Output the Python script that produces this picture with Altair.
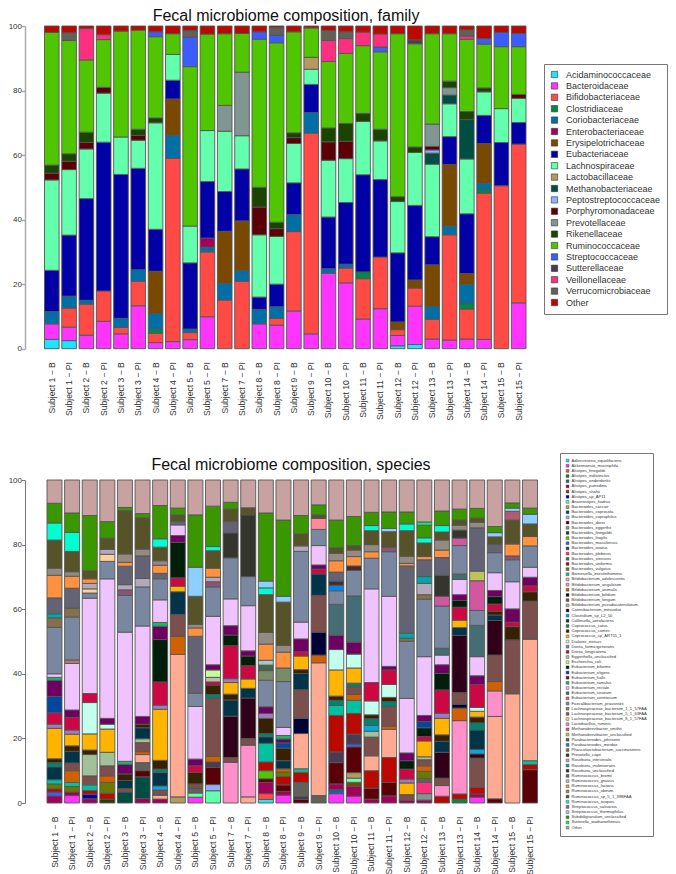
import altair as alt
import pandas as pd

FONT = "Liberation Sans"
TEXT = "#333333"

samples = []
for n in [1, 2, 3, 4, 5, 7, 8, 9, 10, 11, 12, 13, 14, 15]:
    samples += [f"Subject {n} \u2212 B", f"Subject {n} \u2212 PI"]

families = ["Acidaminococcaceae", "Bacteroidaceae", "Bifidobacteriaceae", "Clostridiaceae", "Coriobacteriaceae",
            "Enterobacteriaceae", "Erysipelotrichaceae", "Eubacteriaceae", "Lachnospiraceae", "Lactobacillaceae",
            "Methanobacteriaceae", "Peptostreptococcaceae", "Porphyromonadaceae", "Prevotellaceae", "Rikenellaceae",
            "Ruminococcaceae", "Streptococcaceae", "Sutterellaceae", "Veillonellaceae", "Verrucomicrobiaceae", "Other"]
family_colors = ["#1CE6FF", "#FF34FF", "#FF4A46", "#008941", "#006FA6", "#A30059", "#7A4900", "#0000A6", "#63FFAC",
                 "#B79762", "#004D43", "#8FB0FF", "#5A0007", "#809693", "#1B4400", "#4FC601", "#3B5DFF", "#4A3B53",
                 "#FF2F80", "#61615A", "#BA0900"]
family_short = ["Aci", "Bac", "Bif", "Clo", "Cor", "Ent", "Ery", "Eub", "Lac", "Lab", "Met", "Pep", "Por", "Pre",
                "Rik", "Rum", "Str", "Sut", "Vei", "Ver", "Oth"]

species = ["Adlercreutzia_equolifaciens", "Akkermansia_muciniphila", "Alistipes_finegoldii", "Alistipes_indistinctus",
           "Alistipes_onderdonkii", "Alistipes_putredinis", "Alistipes_shahii", "Alistipes_sp_AP11",
           "Anaerostipes_hadrus", "Bacteroides_caccae", "Bacteroides_coprocola", "Bacteroides_coprophilus",
           "Bacteroides_dorei", "Bacteroides_eggerthii", "Bacteroides_finegoldii", "Bacteroides_fragilis",
           "Bacteroides_massiliensis", "Bacteroides_ovatus", "Bacteroides_plebeius", "Bacteroides_stercoris",
           "Bacteroides_uniformis", "Bacteroides_vulgatus", "Barnesiella_intestinihominis",
           "Bifidobacterium_adolescentis", "Bifidobacterium_angulatum", "Bifidobacterium_animalis",
           "Bifidobacterium_bifidum", "Bifidobacterium_longum", "Bifidobacterium_pseudocatenulatum",
           "Catenibacterium_mitsuokai", "Clostridium_sp_L2_50", "Collinsella_aerofaciens", "Coprococcus_catus",
           "Coprococcus_comes", "Coprococcus_sp_ART55_1", "Dialister_invisus", "Dorea_formicigenerans",
           "Dorea_longicatena", "Eggerthella_unclassified", "Escherichia_coli", "Eubacterium_biforme",
           "Eubacterium_eligens", "Eubacterium_hallii", "Eubacterium_ramulus", "Eubacterium_rectale",
           "Eubacterium_siraeum", "Eubacterium_ventriosum", "Faecalibacterium_prausnitzii",
           "Lachnospiraceae_bacterium_1_1_57FAA", "Lachnospiraceae_bacterium_5_1_63FAA",
           "Lachnospiraceae_bacterium_8_1_57FAA", "Lactobacillus_ruminis", "Methanobrevibacter_smithii",
           "Methanobrevibacter_unclassified", "Parabacteroides_johnsonii", "Parabacteroides_merdae",
           "Phascolarctobacterium_succinatutens", "Prevotella_copri", "Roseburia_intestinalis",
           "Roseburia_inulinivorans", "Roseburia_unclassified", "Ruminococcus_bromii", "Ruminococcus_gnavus",
           "Ruminococcus_lactaris", "Ruminococcus_obeum", "Ruminococcus_sp_5_1_39BFAA", "Ruminococcus_torques",
           "Streptococcus_salivarius", "Streptococcus_thermophilus", "Subdoligranulum_unclassified",
           "Sutterella_wadsworthensis", "Other"]
species_short = ["adl", "akk", "afi", "ain", "aon", "apu", "ash", "aap", "ana", "bca", "bcl", "bcp", "bdo", "beg",
                 "bfi", "bfr", "bma", "bov", "bpl", "bst", "bun", "bvu", "bar", "bad", "ban", "bam", "bbi", "blo",
                 "bps", "cat", "clo", "col", "cca", "cco", "car", "dia", "dfo", "dlo", "egg", "esc", "ebi", "eel",
                 "eha", "era", "ere", "esi", "eve", "fae", "l11", "l51", "l81", "lru", "msm", "mun", "pjo", "pme",
                 "pha", "pco", "rin", "riu", "run", "rbr", "rgn", "rla", "rob", "rsp", "rto", "ssa", "sth", "sub",
                 "sut", "oth"]
species_colors = ["#1CE6FF", "#FF34FF", "#FF4A46", "#008941", "#006FA6", "#A30059", "#7A4900", "#0000A6", "#63FFAC",
                  "#B79762", "#004D43", "#8FB0FF", "#5A0007", "#809693", "#1B4400", "#4FC601", "#3B5DFF", "#4A3B53",
                  "#FF2F80", "#61615A", "#BA0900", "#6B7900", "#00C2A0", "#FFAA92", "#FF90C9", "#D16100", "#000035",
                  "#7B4F4B", "#A1C299", "#300018", "#0AA6D8", "#013349", "#00846F", "#372101", "#FFB500", "#C2FFED",
                  "#A079BF", "#CC0744", "#C0B9B2", "#C2FF99", "#001E09", "#00489C", "#6F0062", "#0CBD66", "#EEC3FF",
                  "#456D75", "#B77B68", "#7A87A1", "#788D66", "#885578", "#FAD09F", "#FF8A9A", "#D157A0", "#BEC459",
                  "#456648", "#0086ED", "#886F4C", "#34362D", "#B4A8BD", "#00A6AA", "#452C2C", "#636375", "#A3C8C9",
                  "#FF913F", "#938A81", "#575329", "#00FECF", "#B05B6F", "#8CD0FF", "#3B9700", "#04F757", "#C8A1A1"]

# Family composition: (family, cumulative top of the segment), bottom to top, one list per sample
f01 = [("Aci", 2.9), ("Bac", 7.7), ("Cor", 11.5), ("Eub", 24.3), ("Lac", 52.3), ("Por", 54.4), ("Rik", 56.9), ("Rum", 98), ("Oth", 100)]
f02 = [("Aci", 2.5), ("Bac", 6.7), ("Bif", 12.6), ("Cor", 16.3), ("Eub", 35.2), ("Lac", 55.5), ("Por", 58.1), ("Rik", 60.4), ("Rum", 95.5), ("Ver", 97.9), ("Oth", 100)]
f03 = [("Bac", 4.2), ("Bif", 13.8), ("Cor", 15), ("Eub", 46.5), ("Lac", 61.9), ("Por", 63.9), ("Rik", 67.1), ("Rum", 89.5), ("Vei", 99.2), ("Oth", 100)]
f04 = [("Bac", 8.5), ("Bif", 17.9), ("Eub", 64), ("Lac", 79.2), ("Por", 81), ("Rum", 95.8), ("Vei", 97.3), ("Oth", 100)]
f05 = [("Bac", 4.6), ("Bif", 6.6), ("Cor", 9.4), ("Eub", 54), ("Lac", 65.6), ("Rum", 98.4), ("Oth", 100)]
f06 = [("Bac", 13.3), ("Bif", 20.9), ("Cor", 24.5), ("Eub", 55.9), ("Lac", 64.6), ("Por", 66.1), ("Rik", 68), ("Rum", 98.7), ("Oth", 100)]
f07 = [("Bac", 1.9), ("Bif", 4.8), ("Clo", 6), ("Cor", 10.9), ("Ery", 24), ("Eub", 37), ("Lac", 70), ("Rik", 71.5), ("Rum", 96.7), ("Str", 98.2), ("Oth", 100)]
f08 = [("Bac", 2.2), ("Bif", 59), ("Cor", 66.2), ("Ery", 77.4), ("Eub", 83.2), ("Lac", 91.2), ("Rum", 97.6), ("Oth", 100)]
f09 = [("Bac", 2.8), ("Bif", 5), ("Cor", 6.1), ("Eub", 26.6), ("Lac", 38), ("Rum", 87.4), ("Str", 96.6), ("Ver", 98.6), ("Oth", 100)]
f10 = [("Bac", 9.9), ("Bif", 30), ("Cor", 31.5), ("Ent", 34.3), ("Eub", 51.8), ("Lac", 67.6), ("Rum", 97.5), ("Oth", 100)]
f11 = [("Bif", 15.1), ("Cor", 20.3), ("Ery", 36.4), ("Eub", 48.7), ("Lac", 67.4), ("Pre", 75.4), ("Rum", 97.6), ("Oth", 100)]
f12 = [("Bif", 20.9), ("Cor", 24.2), ("Ery", 39.6), ("Eub", 55.7), ("Lac", 66), ("Pre", 85.7), ("Rum", 97.7), ("Oth", 100)]
f13 = [("Bac", 7.7), ("Cor", 12.2), ("Eub", 16), ("Lac", 35.3), ("Por", 43.9), ("Rik", 50), ("Rum", 95.9), ("Str", 98.2), ("Oth", 100)]
f14 = [("Bac", 7.3), ("Bif", 9.4), ("Cor", 13), ("Eub", 20), ("Lac", 34.8), ("Por", 37.2), ("Rik", 39.2), ("Rum", 94.8), ("Str", 97.1), ("Ver", 99.5), ("Oth", 100)]
f15 = [("Bac", 11.7), ("Bif", 36.3), ("Cor", 41.6), ("Eub", 51.4), ("Lac", 63.6), ("Por", 65.4), ("Rik", 66.9), ("Rum", 98.2), ("Oth", 100)]
f16 = [("Bac", 4.6), ("Bif", 66.8), ("Cor", 73.2), ("Eub", 81.9), ("Lac", 86.6), ("Lab", 90.3), ("Rum", 99.4), ("Oth", 100)]
f17 = [("Bac", 23.4), ("Cor", 24.8), ("Eub", 40.8), ("Lac", 58.4), ("Por", 64.1), ("Rik", 68.4), ("Rum", 89), ("Vei", 95.5), ("Ver", 98.6), ("Oth", 100)]
f18 = [("Bac", 20.4), ("Bif", 25), ("Cor", 26.2), ("Eub", 45.3), ("Lac", 58.9), ("Por", 64.3), ("Rik", 69.8), ("Rum", 91.5), ("Vei", 96.1), ("Ver", 98.2), ("Oth", 100)]
f19 = [("Bac", 9.2), ("Bif", 21.7), ("Clo", 23.8), ("Eub", 53.9), ("Lac", 70.4), ("Rik", 72.9), ("Rum", 93.9), ("Vei", 98.1), ("Oth", 100)]
f20 = [("Bac", 12.4), ("Bif", 28.4), ("Eub", 52.4), ("Lac", 64.4), ("Rik", 68), ("Rum", 92), ("Str", 93.5), ("Vei", 97.5), ("Oth", 100)]
f21 = [("Aci", 0.9), ("Bac", 4.1), ("Bif", 5.9), ("Ery", 8.3), ("Eub", 29.7), ("Lac", 45.6), ("Rik", 47.1), ("Rum", 97.6), ("Oth", 100)]
f22 = [("Aci", 1.3), ("Bac", 13.2), ("Bif", 18.8), ("Ery", 21.3), ("Eub", 44.4), ("Lac", 60.8), ("Rik", 62.5), ("Rum", 94.5), ("Sut", 95.7), ("Oth", 100)]
f23 = [("Bac", 3), ("Bif", 9.1), ("Cor", 13.1), ("Ery", 26), ("Eub", 34.7), ("Lac", 57.2), ("Met", 60.6), ("Pep", 61.6), ("Por", 62.7), ("Pre", 69.6), ("Rum", 97.6), ("Oth", 100)]
f24 = [("Bac", 2.7), ("Bif", 35.3), ("Cor", 38), ("Ery", 57.1), ("Eub", 65.7), ("Lac", 75.9), ("Met", 78.6), ("Pre", 80.9), ("Rik", 82.9), ("Rum", 97.6), ("Oth", 100)]
f25 = [("Bac", 3), ("Bif", 12.3), ("Clo", 14), ("Cor", 20), ("Ery", 23.3), ("Eub", 41.8), ("Lac", 58.8), ("Met", 71), ("Rik", 73.5), ("Rum", 95.9), ("Vei", 96.9), ("Ver", 98.8), ("Oth", 100)]
f26 = [("Bac", 2.9), ("Bif", 48.2), ("Clo", 49.3), ("Cor", 51.3), ("Ery", 63.6), ("Eub", 72.3), ("Lac", 79.6), ("Rik", 80.8), ("Rum", 94.4), ("Str", 96.1), ("Oth", 100)]
f27 = [("Bif", 50.5), ("Eub", 63.9), ("Lac", 74.4), ("Rum", 93.6), ("Str", 98), ("Oth", 100)]
f28 = [("Bac", 14.2), ("Bif", 63.4), ("Eub", 70.1), ("Lac", 77.6), ("Por", 78.8), ("Rum", 93.6), ("Str", 97.7), ("Oth", 100)]

# Species composition: same layout
s01 = [("apu", 2.2), ("bma", 3.4), ("bun", 4.4), ("bvu", 5.9), ("bar", 7.2), ("col", 11.2), ("cca", 12.5), ("cco", 13.7), ("car", 23.1), ("dfo", 24.4), ("dlo", 27.9), ("eel", 33), ("eha", 38), ("era", 38.9), ("ere", 40), ("fae", 54.4), ("pha", 57.3), ("riu", 58.6), ("rbr", 63.5), ("rla", 70.5), ("rob", 72.7), ("rsp", 81.4), ("rto", 86.7), ("sub", 92.8), ("oth", 100)]
s02 = [("akk", 2.3), ("apu", 3.4), ("bvu", 5.1), ("bar", 6.4), ("bam", 10), ("blo", 12.4), ("col", 16), ("cco", 17.7), ("car", 21.3), ("dfo", 22.6), ("dlo", 26.5), ("eha", 28.8), ("ere", 43.2), ("eve", 44.3), ("fae", 57.6), ("pha", 60.3), ("rbr", 66.5), ("rla", 70.2), ("rob", 71.6), ("rsp", 77.9), ("rto", 83.8), ("sub", 89.8), ("oth", 100)]
s03 = [("apu", 1.3), ("aap", 2.7), ("bun", 3.9), ("bar", 5.6), ("blo", 8.4), ("bps", 15), ("cco", 16.4), ("car", 21.4), ("dia", 31.1), ("dlo", 33.9), ("ere", 63.4), ("fae", 65), ("l81", 66.3), ("rin", 68), ("rla", 69.4), ("rsp", 71.9), ("sub", 89), ("oth", 100)]
s04 = [("bfi", 1.2), ("bun", 3), ("bvu", 6.4), ("bam", 8.4), ("blo", 11.5), ("bps", 15.7), ("car", 22.9), ("dia", 24.4), ("eha", 26.2), ("ere", 69.4), ("fae", 74.8), ("l81", 77), ("rin", 78.5), ("rsp", 82), ("sub", 87.1), ("oth", 100)]
s05 = [("bcl", 3.4), ("blo", 4.5), ("col", 7), ("cco", 9), ("eha", 11.9), ("era", 12.9), ("ere", 52.9), ("fae", 64.3), ("l51", 66), ("rin", 67.6), ("rbr", 73.3), ("rla", 74.5), ("rob", 77.1), ("rsp", 90.5), ("sub", 91.5), ("oth", 100)]
s06 = [("apu", 1.4), ("bcl", 8.1), ("bdo", 10), ("bst", 12.5), ("bad", 15), ("bam", 15.9), ("blo", 18.7), ("bps", 19.9), ("col", 23.3), ("cco", 24.4), ("eha", 26.8), ("ere", 54.8), ("fae", 66.9), ("rin", 69.5), ("rbr", 76.5), ("rob", 78.6), ("rsp", 88.3), ("sub", 89.6), ("oth", 100)]
s07 = [("apu", 1.2), ("bad", 2.4), ("blo", 4), ("clo", 5.3), ("col", 9.4), ("cca", 10.5), ("cco", 13.2), ("car", 29), ("dfo", 30.3), ("dlo", 37.5), ("ebi", 50.6), ("eha", 54.7), ("era", 55.9), ("ere", 62.9), ("fae", 69.4), ("rbr", 71.1), ("rla", 73.6), ("rob", 75), ("rsp", 79.2), ("rto", 81.8), ("sub", 92.1), ("oth", 100)]
s08 = [("bca", 1.9), ("bad", 46), ("bam", 51.6), ("blo", 58.4), ("col", 65.4), ("car", 67.1), ("dlo", 69.7), ("ebi", 80.7), ("eha", 82.8), ("ere", 86.1), ("rbr", 87.2), ("rsp", 89.2), ("sub", 91.3), ("oth", 100)]
s09 = [("akk", 1.8), ("ana", 3.1), ("bst", 4.5), ("blo", 5.9), ("cco", 9.5), ("dlo", 11.5), ("eha", 13.6), ("ere", 29.9), ("fae", 34), ("rbr", 51.6), ("rla", 54.2), ("rob", 55.3), ("rsp", 64), ("sth", 73), ("sub", 89.2), ("oth", 100)]
s10 = [("ana", 3.8), ("bcp", 5.7), ("bdo", 11), ("bov", 12.7), ("bam", 14.4), ("blo", 32.4), ("cca", 33.6), ("cco", 36.5), ("dlo", 37.5), ("egg", 38.9), ("esc", 41.2), ("eha", 42.8), ("ere", 57.8), ("fae", 66.9), ("l51", 68.5), ("rin", 69.9), ("rla", 72.7), ("rsp", 78.1), ("rto", 79.4), ("sub", 91.9), ("oth", 100)]
s11 = [("ban", 12.6), ("blo", 14.1), ("cat", 26.9), ("col", 31.9), ("cco", 33.7), ("car", 37.3), ("dfo", 38.5), ("dlo", 48.7), ("ebi", 52), ("eha", 54.9), ("ere", 63.2), ("fae", 75.9), ("pco", 83.6), ("rbr", 87.2), ("rsp", 91), ("sub", 93.1), ("oth", 100)]
s12 = [("bad", 1.9), ("ban", 17.9), ("blo", 20), ("cat", 32.5), ("col", 35.5), ("car", 38.4), ("dlo", 42.5), ("ebi", 45.5), ("eha", 47.1), ("ere", 61.1), ("fae", 70.1), ("pco", 89.2), ("rsp", 91.4), ("oth", 100)]
s13 = [("adl", 1.1), ("afi", 2.9), ("apu", 6.4), ("bdo", 7.5), ("bfr", 10), ("bun", 12.7), ("bar", 18.5), ("col", 20.5), ("cca", 21.5), ("cco", 26.2), ("dfo", 27.7), ("eha", 29.8), ("fae", 38), ("l11", 41), ("pjo", 42.7), ("rgn", 44.2), ("rla", 49.2), ("rob", 52.8), ("rsp", 64.5), ("rto", 66.6), ("sth", 68.7), ("sub", 89.8), ("oth", 100)]
s14 = [("akk", 2.4), ("apu", 3.6), ("bdo", 5.6), ("bun", 8.2), ("bvu", 9.6), ("bam", 10.6), ("col", 13.1), ("cco", 17), ("eel", 18.6), ("eha", 19.8), ("era", 20.9), ("ere", 23.4), ("fae", 37.6), ("l11", 41.8), ("rla", 46.7), ("rob", 48.8), ("rsp", 62.2), ("sth", 64), ("sub", 87.6), ("oth", 100)]
s15 = [("bdo", 1.1), ("bov", 2), ("bst", 6.4), ("bun", 9.5), ("bar", 10.6), ("bad", 21.5), ("bbi", 26.2), ("blo", 35.1), ("col", 40.1), ("cco", 41.3), ("car", 45.5), ("dlo", 46.8), ("eha", 50.8), ("ere", 56), ("fae", 77.9), ("rin", 79.6), ("rsp", 83.3), ("sub", 89), ("oth", 100)]
s16 = [("bst", 2.3), ("bad", 43.4), ("bam", 45.8), ("bbi", 52.9), ("blo", 64.3), ("col", 70.9), ("dlo", 72.4), ("eha", 73.7), ("ere", 79.7), ("fae", 84.7), ("lru", 88.1), ("rsp", 89.2), ("sub", 92.3), ("oth", 100)]
s17 = [("akk", 2.9), ("aon", 4.1), ("apu", 5.9), ("bdo", 12.5), ("bov", 15.8), ("bun", 27.1), ("bar", 30.2), ("cca", 31.8), ("cco", 33.1), ("car", 41.2), ("dia", 47.5), ("eha", 51.9), ("esi", 61.5), ("fae", 65.7), ("pme", 67.4), ("run", 68.7), ("rbr", 71.5), ("rla", 75), ("rob", 77.3), ("rsp", 79), ("sub", 87.6), ("oth", 100)]
s18 = [("akk", 2.1), ("apu", 5.2), ("ash", 6.4), ("ana", 7.7), ("bca", 9.4), ("bdo", 17.4), ("bma", 18.2), ("bov", 21.3), ("bun", 27.7), ("bar", 31.8), ("bam", 33.6), ("blo", 36), ("cca", 37.1), ("car", 41.8), ("dia", 46.1), ("eha", 49.8), ("esi", 64.1), ("fae", 72), ("run", 73.4), ("rla", 76.3), ("rob", 78.3), ("rsp", 79.7), ("sub", 88.7), ("oth", 100)]
s19 = [("apu", 1.2), ("bdo", 4.6), ("bun", 10), ("bad", 14.6), ("blo", 20.4), ("bps", 22.2), ("clo", 24), ("cca", 26.1), ("cco", 27.3), ("dia", 31.6), ("dlo", 37.3), ("ere", 66.3), ("fae", 75.8), ("rla", 77.8), ("rob", 80), ("rsp", 84.3), ("rto", 85.9), ("sub", 90), ("oth", 100)]
s20 = [("apu", 2.2), ("bdo", 6.4), ("bun", 14.1), ("bad", 22.8), ("bam", 23.8), ("blo", 29.9), ("cca", 31.4), ("cco", 32.7), ("dia", 36.7), ("dlo", 41.2), ("eha", 42.3), ("ere", 64), ("fae", 77.8), ("l51", 79.2), ("rsp", 84), ("sth", 85), ("sub", 90.1), ("oth", 100)]
s21 = [("apu", 0.9), ("blo", 2.6), ("car", 6.2), ("dfo", 7.4), ("dlo", 10.5), ("ebi", 13.1), ("eha", 15.5), ("ere", 32.4), ("fae", 50.1), ("pha", 51), ("riu", 52.6), ("rbr", 73.4), ("rla", 74.2), ("rob", 76.4), ("rsp", 84.3), ("rto", 86.4), ("sub", 90.1), ("oth", 100)]
s22 = [("apu", 0.9), ("beg", 2.9), ("bpl", 6.4), ("bst", 7.6), ("bvu", 9.8), ("bam", 11.5), ("blo", 13.4), ("bps", 14.3), ("car", 19.2), ("dlo", 20.6), ("ebi", 23.3), ("eel", 25.2), ("eha", 27.1), ("ere", 45.3), ("fae", 63.1), ("pha", 64.5), ("rin", 68), ("riu", 70.1), ("rbr", 75.3), ("rla", 76.3), ("rsp", 80.5), ("rto", 82.1), ("sub", 86), ("sut", 87), ("oth", 100)]
s23 = [("bun", 2.1), ("ban", 5.4), ("blo", 7.7), ("cat", 15.7), ("col", 19.1), ("cco", 21.1), ("car", 26.2), ("dfo", 27.8), ("dlo", 35), ("ebi", 40.1), ("eha", 42.8), ("ere", 45.8), ("esi", 47.9), ("fae", 61), ("msm", 64), ("pco", 70.5), ("rbr", 76), ("rla", 78.3), ("rob", 81.4), ("rsp", 83.9), ("rto", 85.9), ("sub", 90.4), ("oth", 100)]
s24 = [("ain", 1.2), ("bun", 2.8), ("ban", 25.5), ("bam", 29.4), ("bbi", 30.6), ("blo", 34.2), ("cat", 51.9), ("col", 54.3), ("car", 56.6), ("dlo", 60.6), ("ebi", 62.7), ("eha", 64.5), ("ere", 69.2), ("esi", 70.9), ("fae", 79.7), ("msm", 82), ("pco", 84.5), ("rob", 86), ("rsp", 87.6), ("sub", 91), ("oth", 100)]
s25 = [("akk", 1.8), ("apu", 2.8), ("bun", 4.8), ("blo", 13.9), ("cat", 15.2), ("clo", 16.6), ("col", 22.6), ("cca", 24.8), ("cco", 26.6), ("car", 28.4), ("dia", 29.6), ("dlo", 36.7), ("eha", 39.4), ("ere", 45.3), ("esi", 55), ("fae", 59.6), ("msm", 68.8), ("mun", 71.8), ("rbr", 85.2), ("rob", 86.9), ("rsp", 88.2), ("sub", 91.2), ("oth", 100)]
s26 = [("bdo", 1.3), ("bad", 26.8), ("ban", 34.7), ("bam", 37.6), ("blo", 45.8), ("cat", 56.5), ("col", 58.2), ("cco", 59.4), ("dlo", 61.6), ("ebi", 63.9), ("eha", 65.8), ("ere", 71.3), ("fae", 77.5), ("rbr", 80.1), ("rsp", 82.4), ("sth", 83.7), ("sub", 85.6), ("oth", 100)]
s27 = [("bad", 33.8), ("blo", 50.5), ("cco", 54.6), ("dlo", 56), ("eha", 60.1), ("ere", 68.5), ("fae", 75.3), ("l51", 76.5), ("rla", 80.2), ("rsp", 87.6), ("ssa", 90.3), ("sth", 91.3), ("sub", 92.9), ("oth", 100)]
s28 = [("bdo", 10.3), ("bun", 11.9), ("bar", 13.1), ("bad", 50.7), ("blo", 62.5), ("cco", 65.4), ("dlo", 67.2), ("eha", 69.9), ("ere", 73), ("fae", 79.6), ("rla", 82.5), ("rsp", 86.4), ("sth", 89.4), ("sub", 91.3), ("oth", 100)]

family_stacks = [f01, f02, f03, f04, f05, f06, f07, f08, f09, f10, f11, f12, f13, f14,
                 f15, f16, f17, f18, f19, f20, f21, f22, f23, f24, f25, f26, f27, f28]
species_stacks = [s01, s02, s03, s04, s05, s06, s07, s08, s09, s10, s11, s12, s13, s14,
                  s15, s16, s17, s18, s19, s20, s21, s22, s23, s24, s25, s26, s27, s28]


def table(stacks, short, names):
    lookup = dict(zip(short, names))
    rows = []
    for sample, stack in zip(samples, stacks):
        base = 0
        for key, top in stack:
            rows.append({"sample": sample, "taxon": lookup[key], "y0": base, "y1": top})
            base = top
    return pd.DataFrame(rows)


def panel(df, names, colors, title, width, height, x_range, inner, axis_color, axis_width,
          legend, stroke, bar_stroke, title_offset):
    return (
        alt.Chart(df, title=alt.TitleParams(title, font=FONT, fontSize=16, fontWeight="normal", color="#111111",
                                            anchor="middle", offset=title_offset))
        .mark_bar(stroke=stroke, strokeWidth=bar_stroke)
        .encode(
            x=alt.X("sample:N", sort=samples, title=None,
                    scale=alt.Scale(paddingInner=inner, paddingOuter=0, range=x_range),
                    axis=alt.Axis(domain=False, ticks=False, labelAngle=-90, labelAlign="right", labelBaseline="middle",
                                  labelFont=FONT, labelFontSize=8.6, labelColor=TEXT, labelPadding=13,
                                  labelOverlap=False, labelLimit=120)),
            y=alt.Y("y0:Q", title=None, scale=alt.Scale(domain=[0, 100], nice=False),
                    axis=alt.Axis(values=[0, 20, 40, 60, 80, 100], grid=False, domainColor=axis_color,
                                  domainWidth=axis_width, tickColor=axis_color, tickWidth=axis_width, tickSize=3.5,
                                  labelFont=FONT, labelFontSize=8, labelColor=TEXT, labelPadding=0)),
            y2="y1:Q",
            fill=alt.Fill("taxon:N", scale=alt.Scale(domain=names, range=colors), legend=legend),
            order=alt.Order("y0:Q"),
        )
        .properties(width=width, height=height)
    )


top_legend = alt.Legend(title=None, orient="none", legendX=519, legendY=38, columns=1, padding=6,
                        strokeColor="#777777", fillColor="white", symbolType="square", symbolSize=40,
                        symbolStrokeWidth=0.6, symbolStrokeColor="#333333", labelFont=FONT, labelFontSize=9,
                        labelColor=TEXT, labelOffset=7, rowPadding=1.4, labelLimit=200, symbolLimit=100)
bottom_legend = alt.Legend(title=None, orient="none", legendX=535, legendY=-27, columns=1, padding=5.5,
                           strokeColor="#777777", fillColor="white", symbolType="square", symbolSize=8,
                           symbolStrokeWidth=0.4, symbolStrokeColor="#333333", labelFont=FONT, labelFontSize=4.1,
                           labelColor=TEXT, labelOffset=2, rowPadding=-0.83, labelLimit=200, symbolLimit=100)

upper = panel(table(family_stacks, family_short, families), families, family_colors,
              "Fecal microbiome composition, family", 522, 322.7, [19.5, 501], 0.155, "#aaaaaa", 1.5,
              top_legend, "#555555", 0.9, -2)
lower = panel(table(species_stacks, species_short, species), species, species_colors,
              "Fecal microbiome composition, species", 532, 323, [22, 512.5], 0.148, "#777777", 1,
              bottom_legend, "#555555", 0.9, -20)

chart = (
    alt.vconcat(upper, lower, spacing=31, padding={"left": 0, "top": 0, "right": 0, "bottom": 0})
    .resolve_scale(fill="independent", x="independent", y="independent")
    .resolve_legend(fill="independent")
    .configure_view(stroke=None)
)
chart.save("out.html", embed_options={"renderer": "svg", "actions": False})
